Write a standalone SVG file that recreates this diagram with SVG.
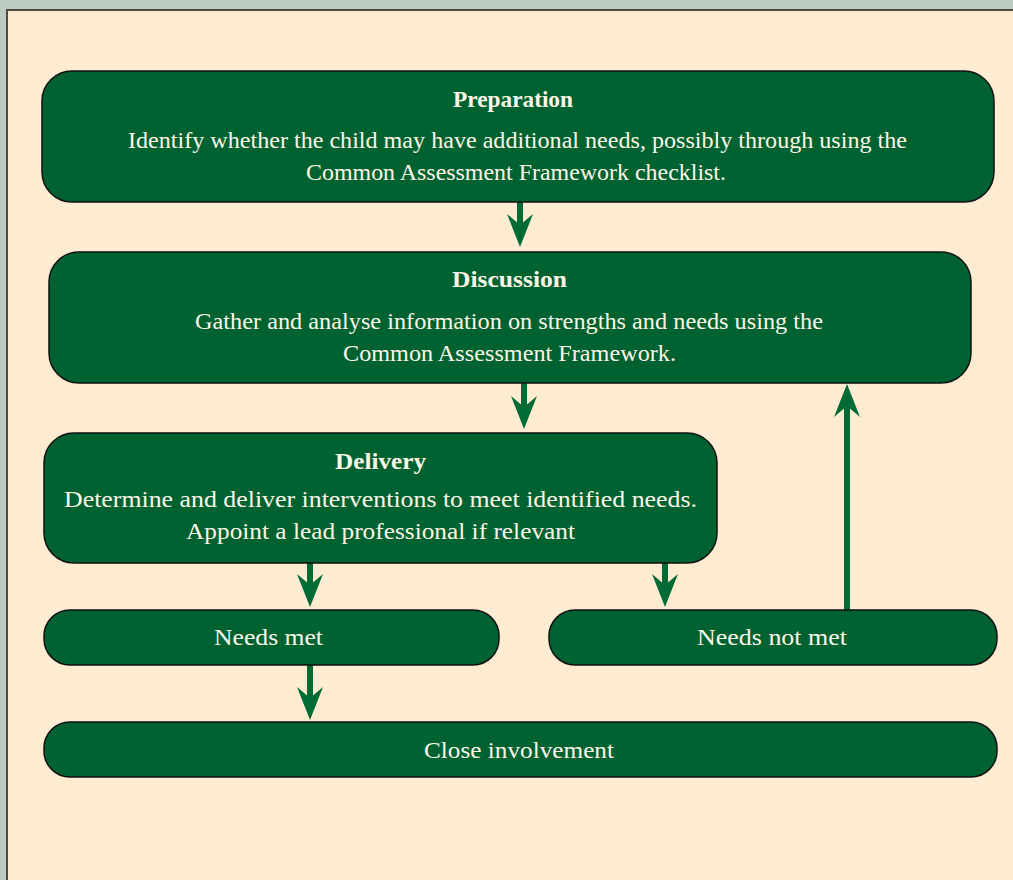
<svg xmlns="http://www.w3.org/2000/svg" width="1013" height="880" viewBox="0 0 1013 880">
<defs>
<marker id="ah" markerUnits="userSpaceOnUse" markerWidth="33" markerHeight="26" viewBox="0 0 33 26" refX="11" refY="13" orient="auto">
<path d="M0,0 L33,13 L0,26 L11,13 Z" fill="#006b35"/>
</marker>
</defs>
<style>
.box{fill:#006131;stroke:#111;stroke-width:1.5}
.t{font-family:"Liberation Serif","DejaVu Serif",serif;font-size:24px;fill:#fdf6e6;text-anchor:middle}
.b{font-weight:bold;font-size:23px}
.c{stroke:#006b35;stroke-width:6;fill:none;marker-end:url(#ah)}
</style>
<rect x="0" y="0" width="1013" height="880" fill="#bccbbf"/>
<rect x="7" y="10" width="1020" height="890" fill="#feecd2" stroke="#4a4a42" stroke-width="2"/>
<g id="connectors">
<line class="c" x1="520" y1="202" x2="520" y2="225"/>
<line class="c" x1="524" y1="383" x2="524" y2="407"/>
<line class="c" x1="310" y1="563" x2="310" y2="585"/>
<line class="c" x1="665" y1="563" x2="665" y2="585"/>
<line class="c" x1="310" y1="665" x2="310" y2="698"/>
<line class="c" x1="847" y1="610" x2="847" y2="406"/>
</g>
<g id="preparation">
<rect class="box" x="42" y="71" width="952" height="131" rx="30"/>
<text class="t b" x="513" y="107" textLength="120" lengthAdjust="spacingAndGlyphs">Preparation</text>
<text class="t" x="517.5" y="148" textLength="779" lengthAdjust="spacingAndGlyphs">Identify whether the child may have additional needs, possibly through using the</text>
<text class="t" x="516" y="180" textLength="420" lengthAdjust="spacingAndGlyphs">Common Assessment Framework checklist.</text>
</g>
<g id="discussion">
<rect class="box" x="49" y="252" width="922" height="131" rx="30"/>
<text class="t b" x="509.5" y="287" textLength="115" lengthAdjust="spacingAndGlyphs">Discussion</text>
<text class="t" x="509" y="329" textLength="628" lengthAdjust="spacingAndGlyphs">Gather and analyse information on strengths and needs using the</text>
<text class="t" x="509.5" y="361" textLength="333" lengthAdjust="spacingAndGlyphs">Common Assessment Framework.</text>
</g>
<g id="delivery">
<rect class="box" x="44" y="433" width="673" height="130" rx="30"/>
<text class="t b" x="380.5" y="469" textLength="91" lengthAdjust="spacingAndGlyphs">Delivery</text>
<text class="t" x="380.5" y="507" textLength="633" lengthAdjust="spacingAndGlyphs">Determine and deliver interventions to meet identified needs.</text>
<text class="t" x="380.5" y="539" textLength="389" lengthAdjust="spacingAndGlyphs">Appoint a lead professional if relevant</text>
</g>
<g id="needs-met">
<rect class="box" x="44" y="610" width="455" height="55" rx="26"/>
<text class="t" x="268.5" y="645" textLength="109" lengthAdjust="spacingAndGlyphs">Needs met</text>
</g>
<g id="needs-not-met">
<rect class="box" x="549" y="610" width="448" height="55" rx="26"/>
<text class="t" x="772" y="645" textLength="150" lengthAdjust="spacingAndGlyphs">Needs not met</text>
</g>
<g id="close-involvement">
<rect class="box" x="44" y="722" width="953" height="55" rx="26"/>
<text class="t" x="519" y="758" textLength="190" lengthAdjust="spacingAndGlyphs">Close involvement</text>
</g>
</svg>
